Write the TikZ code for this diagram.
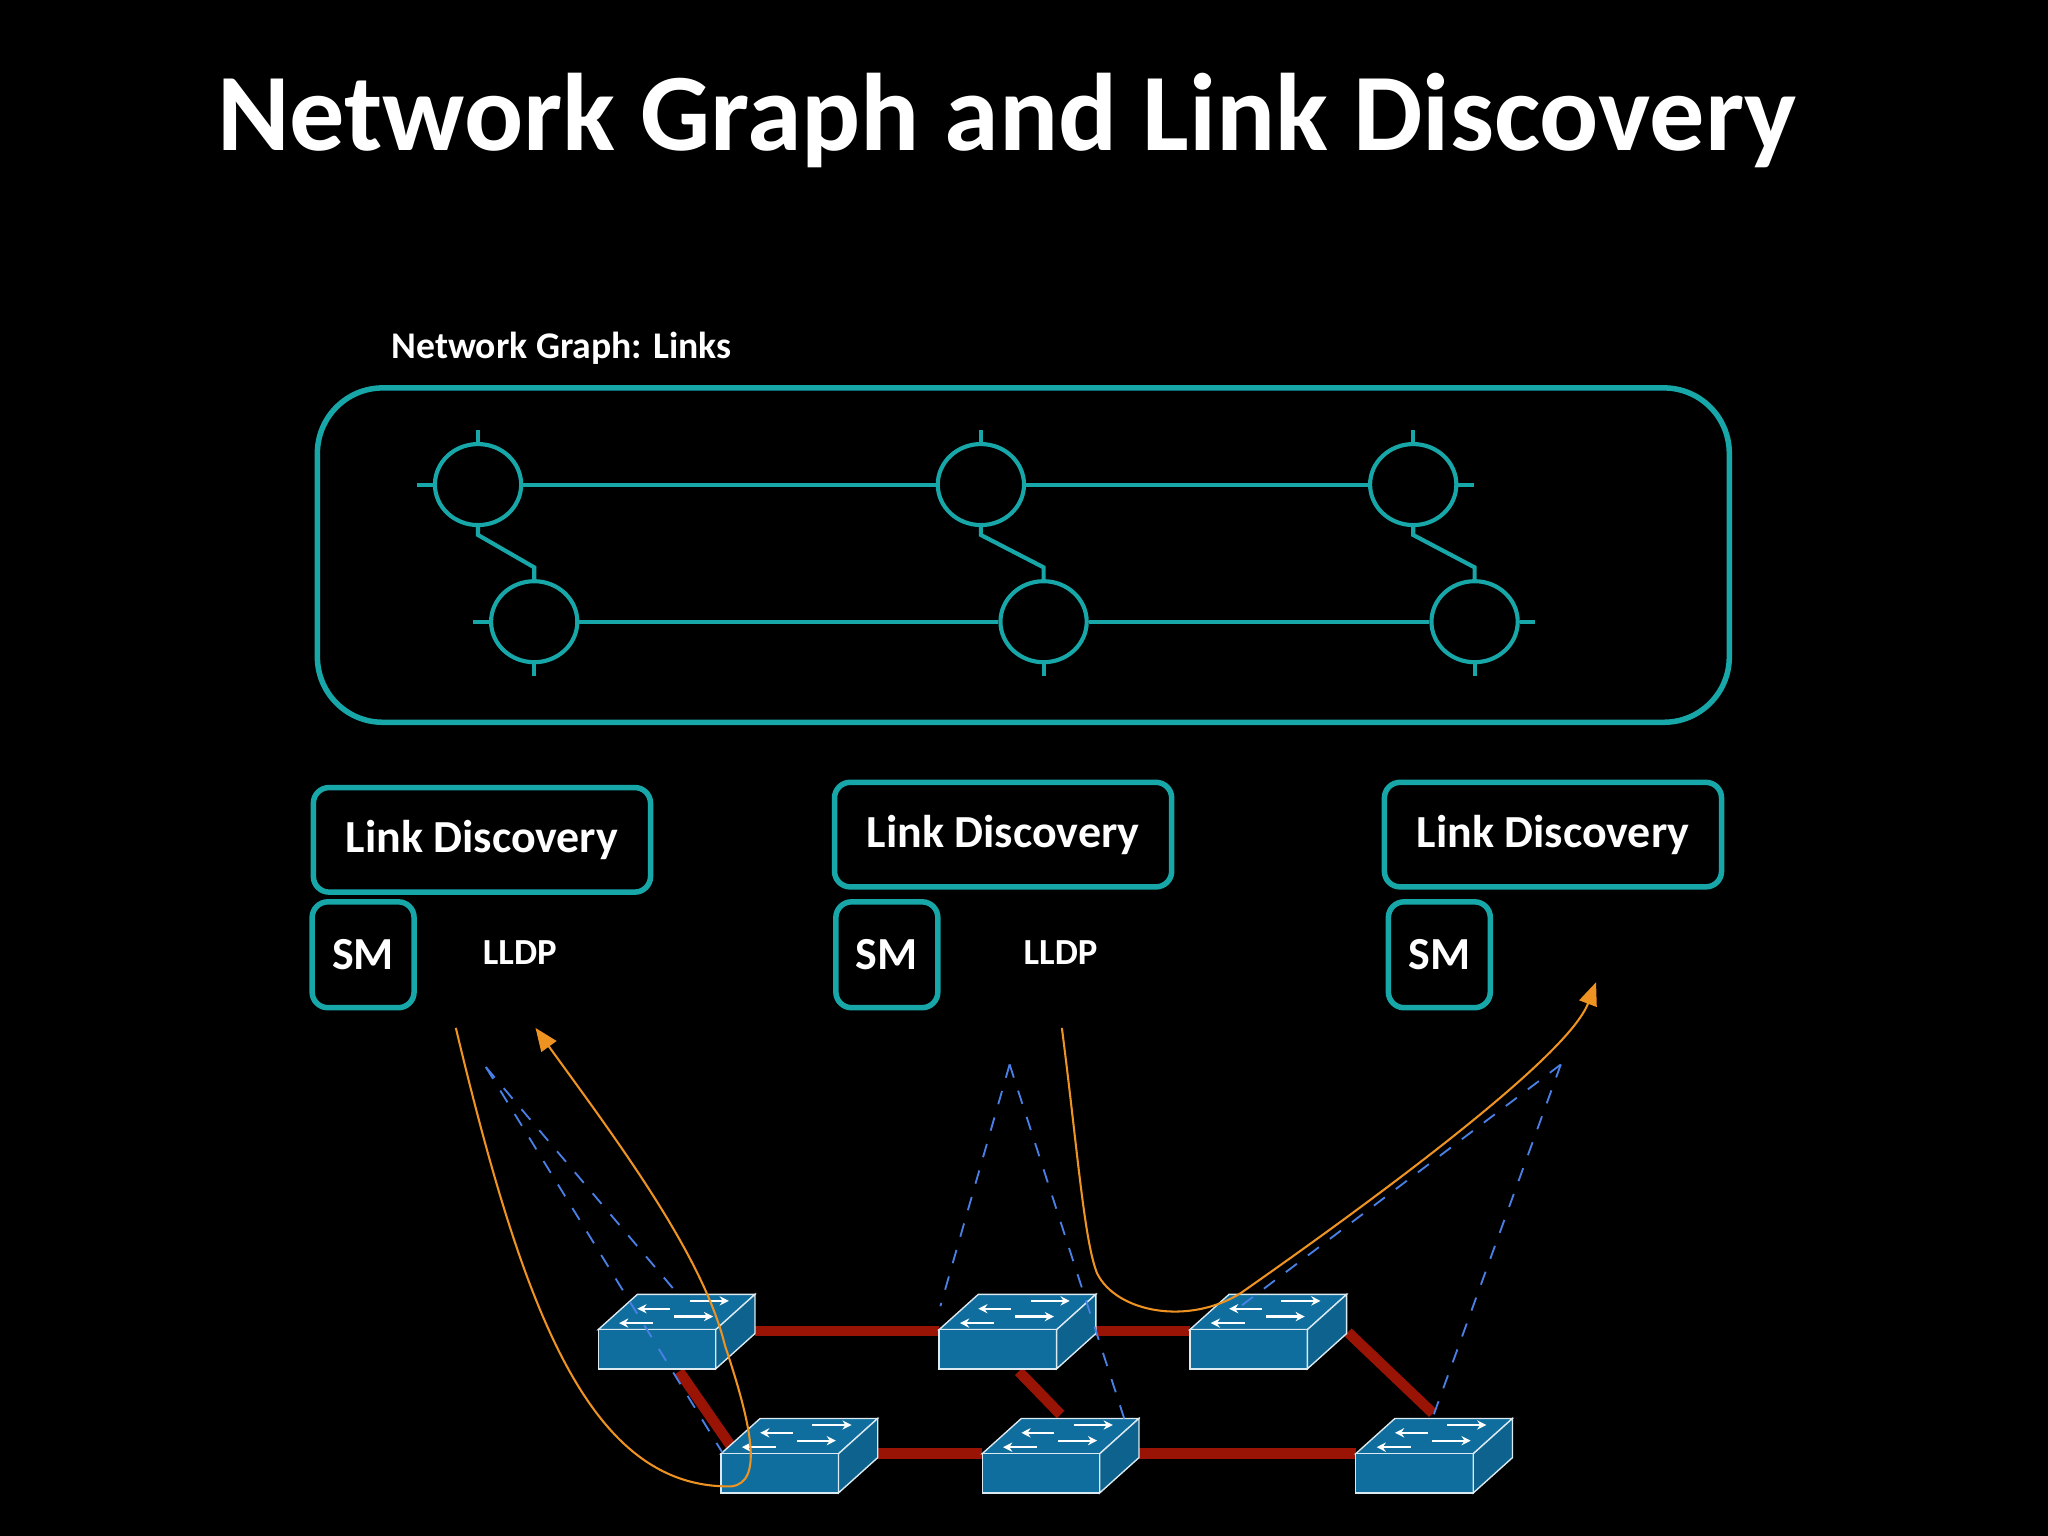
\documentclass[tikz,border=0pt]{standalone}
\usepackage{fontspec}
\setmainfont{Carlito}
\usetikzlibrary{shapes.geometric,arrows.meta}
\definecolor{teal1}{HTML}{17A7A8}
\definecolor{swblue}{HTML}{0F6E9E}
\definecolor{linkred}{HTML}{9A1405}
\definecolor{orng}{HTML}{EE9322}
\definecolor{dblue}{HTML}{4A80E6}
\begin{document}
\begin{tikzpicture}[x=0.01cm,y=-0.01cm,
  gnode/.style={draw=teal1,line width=0.9pt,ellipse,minimum width=0.66cm,minimum height=0.62cm,inner sep=0pt},
  glink/.style={draw=teal1,line width=0.9pt},
  box/.style={draw=teal1,line width=1.2pt,rounded corners=0.12cm,text=white,font=\bfseries},
  lbl/.style={text=white,font=\bfseries},
  redlink/.style={draw=linkred,line width=2.3pt},
  probe/.style={draw=dblue,dashed,line width=0.4pt},
  lldp/.style={draw=orng,line width=0.45pt},
  pics/switch/.style={code={
    \fill[swblue,draw=white!85!swblue,line width=0.3pt] (0,0) -- (90,0) -- (120,-27) -- (30,-27) -- cycle;
    \fill[swblue,draw=white!85!swblue,line width=0.3pt] (0,0) rectangle (90,30);
    \fill[swblue!90!black,draw=white!85!swblue,line width=0.3pt] (90,0) -- (120,-27) -- (120,3) -- (90,30) -- cycle;
    \foreach \d/\a/\b in {22/70/100,16/55/30,10/58/88,5/42/16}
      \draw[white,line width=0.5pt,-{Stealth[length=2pt,width=2pt]}] (\a,-\d) -- (\b,-\d);
  }}]
\fill[black] (0,0) rectangle (1568,1176);
\useasboundingbox (0,0) rectangle (1568,1176);

% title
\node[lbl,font=\bfseries\fontsize{24}{28}\selectfont] (title) at (771,92) {Network Graph and Link Discovery};
\node[lbl,font=\bfseries\fontsize{8.2}{10}\selectfont] (gtitle) at (430,267) {Network Graph: Links};

% network graph
\draw[teal1,line width=1.2pt,rounded corners=0.5cm] (243,297) rectangle (1324,553);
\node[gnode] (a1) at (366,371) {};
\node[gnode] (a2) at (751,371) {};
\node[gnode] (a3) at (1082,371) {};
\node[gnode] (b1) at (409,476) {};
\node[gnode] (b2) at (799,476) {};
\node[gnode] (b3) at (1129,476) {};
\draw[glink] (a1.east) -- (a2.west);
\draw[glink] (a2.east) -- (a3.west);
\draw[glink] (b1.east) -- (b2.west);
\draw[glink] (b2.east) -- (b3.west);
\foreach \t/\b in {a1/b1,a2/b2,a3/b3}
  \draw[glink] (\t.south) -- ++(0,6) -- ([yshift=0.09cm]\b.north) -- (\b.north);
\draw[glink] (a1.north) -- ++(0,-9);
\draw[glink] (a2.north) -- ++(0,-9);
\draw[glink] (a3.north) -- ++(0,-9);
\draw[glink] (a1.west) -- ++(-12,0);
\draw[glink] (a3.east) -- ++(12,0);
\draw[glink] (b1.west) -- ++(-12,0);
\draw[glink] (b3.east) -- ++(12,0);
\draw[glink] (b1.south) -- ++(0,9);
\draw[glink] (b2.south) -- ++(0,9);
\draw[glink] (b3.south) -- ++(0,9);

% controllers
\begin{scope}[every node/.append style={font=\bfseries\fontsize{10.2}{12}\selectfont}]
\node[box,minimum width=2.58cm,minimum height=0.8cm] (ld1) at (369,643) {Link Discovery};
\node[box,minimum width=2.58cm,minimum height=0.8cm] (ld2) at (768,639) {Link Discovery};
\node[box,minimum width=2.58cm,minimum height=0.8cm] (ld3) at (1189,639) {Link Discovery};
\node[box,minimum width=0.78cm,minimum height=0.81cm] (sm1) at (278,731) {SM};
\node[box,minimum width=0.78cm,minimum height=0.81cm] (sm2) at (679,731) {SM};
\node[box,minimum width=0.78cm,minimum height=0.81cm] (sm3) at (1102,731) {SM};
\end{scope}
\node[lbl,font=\bfseries\fontsize{8}{10}\selectfont] (lldp1) at (398,729) {LLDP};
\node[lbl,font=\bfseries\fontsize{8}{10}\selectfont] (lldp2) at (812,729) {LLDP};

% physical links
\draw[redlink] (578,1019) -- (719,1019);
\draw[redlink] (838,1019) -- (911,1019);
\draw[redlink] (520,1050) -- (563,1112);
\draw[redlink] (780,1050) -- (812,1083);
\draw[redlink] (1032,1020) -- (1097,1082);
\draw[redlink] (672,1113) -- (752,1113);
\draw[redlink] (871,1113) -- (1038,1113);

% switches
\pic at (458,1018) {switch};
\pic at (719,1018) {switch};
\pic at (911,1018) {switch};
\pic at (552,1113) {switch};
\pic at (752,1113) {switch};
\pic at (1038,1113) {switch};

% controller-switch channels
\coordinate (p1) at (372,817);
\coordinate (p2) at (773,815);
\coordinate (p3) at (1195,815);
\draw[probe] (p1) -- (520,992);
\draw[probe] (p1) -- (553,1112);
\draw[probe] (p2) -- (720,1000);
\draw[probe] (p2) -- (862,1090);
\draw[probe] (p3) -- (950,1000);
\draw[probe] (p3) -- (1097,1085);

% LLDP packet paths
\coordinate (o1) at (349,787);
\coordinate (e1) at (410,787);
\coordinate (o2) at (813,787);
\coordinate (e2) at (1222,752);
\draw[lldp,-{Triangle[length=5pt,width=4pt]}] (o1) .. controls (400,1000) and (450,1140) .. (560,1138)
  .. controls (585,1135) and (575,1090) .. (555,1030)
  .. controls (538,960) and (470,870) .. (e1);
\draw[lldp,-{Triangle[length=5pt,width=4pt]}] (o2) .. controls (825,880) and (830,950) .. (840,975)
  .. controls (855,1005) and (910,1015) .. (950,990)
  .. controls (1050,920) and (1200,810) .. (e2);
\end{tikzpicture}
\end{document}
